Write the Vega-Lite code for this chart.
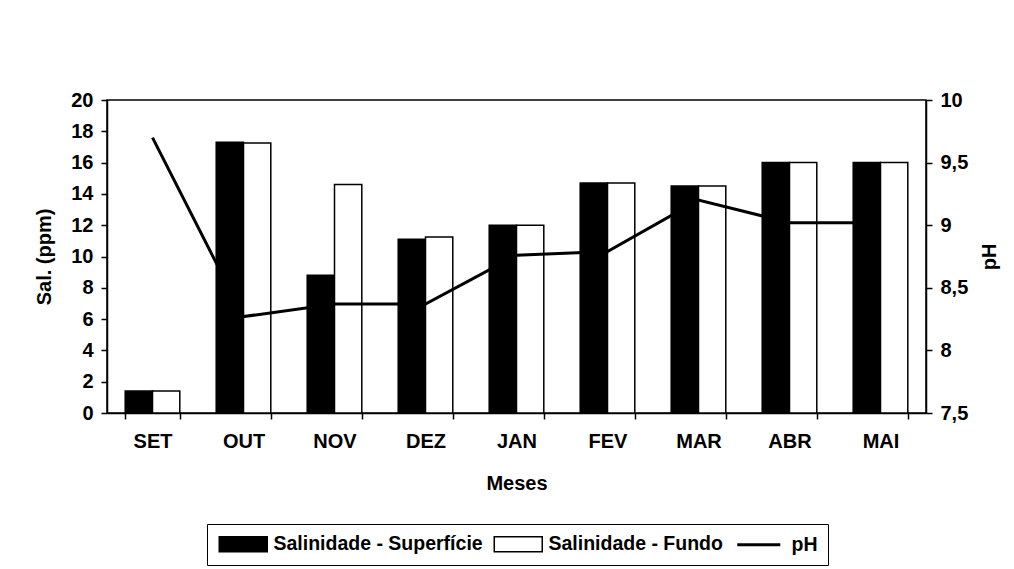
{
  "$schema": "https://vega.github.io/schema/vega-lite/v6.json",
  "width": 819,
  "height": 313,
  "autosize": {"type": "none"},
  "padding": {"left": 107, "top": 100, "right": 88, "bottom": 156},
  "background": "white",
  "config": {
    "font": "Liberation Sans",
    "view": {"stroke": "black", "strokeWidth": 1.5},
    "axis": {
      "grid": false,
      "domainColor": "black",
      "tickColor": "black",
      "labelColor": "black",
      "titleColor": "black",
      "labelFont": "Liberation Sans",
      "titleFont": "Liberation Sans",
      "labelFontSize": 20,
      "titleFontSize": 20,
      "labelFontWeight": "bold",
      "titleFontWeight": "bold",
      "domainWidth": 1.5,
      "tickWidth": 1.5,
      "tickSize": 6
    }
  },
  "datasets": {
    "sal": [
      {"mes": "SET", "serie": "Salinidade - Superfície", "sal": 1.4},
      {"mes": "SET", "serie": "Salinidade - Fundo", "sal": 1.4},
      {"mes": "OUT", "serie": "Salinidade - Superfície", "sal": 17.3},
      {"mes": "OUT", "serie": "Salinidade - Fundo", "sal": 17.25},
      {"mes": "NOV", "serie": "Salinidade - Superfície", "sal": 8.8},
      {"mes": "NOV", "serie": "Salinidade - Fundo", "sal": 14.6},
      {"mes": "DEZ", "serie": "Salinidade - Superfície", "sal": 11.1},
      {"mes": "DEZ", "serie": "Salinidade - Fundo", "sal": 11.25},
      {"mes": "JAN", "serie": "Salinidade - Superfície", "sal": 12.0},
      {"mes": "JAN", "serie": "Salinidade - Fundo", "sal": 12.0},
      {"mes": "FEV", "serie": "Salinidade - Superfície", "sal": 14.7},
      {"mes": "FEV", "serie": "Salinidade - Fundo", "sal": 14.7},
      {"mes": "MAR", "serie": "Salinidade - Superfície", "sal": 14.5},
      {"mes": "MAR", "serie": "Salinidade - Fundo", "sal": 14.5},
      {"mes": "ABR", "serie": "Salinidade - Superfície", "sal": 16.0},
      {"mes": "ABR", "serie": "Salinidade - Fundo", "sal": 16.0},
      {"mes": "MAI", "serie": "Salinidade - Superfície", "sal": 16.0},
      {"mes": "MAI", "serie": "Salinidade - Fundo", "sal": 16.0}
    ],
    "ph": [
      {"mes": "SET", "ph": 9.7},
      {"mes": "OUT", "ph": 8.27},
      {"mes": "NOV", "ph": 8.37},
      {"mes": "DEZ", "ph": 8.37},
      {"mes": "JAN", "ph": 8.76},
      {"mes": "FEV", "ph": 8.79},
      {"mes": "MAR", "ph": 9.2},
      {"mes": "ABR", "ph": 9.02},
      {"mes": "MAI", "ph": 9.02}
    ]
  },
  "layer": [
    {
      "data": {"name": "sal"},
      "mark": {"type": "bar", "stroke": "black", "strokeWidth": 1.5},
      "encoding": {
        "x": {
          "field": "mes",
          "type": "nominal",
          "sort": ["SET", "OUT", "NOV", "DEZ", "JAN", "FEV", "MAR", "ABR", "MAI"],
          "scale": {"paddingInner": 0.4, "paddingOuter": 0.2},
          "axis": {"title": "Meses", "labelAngle": 0, "tickBand": "extent", "labelPadding": 12, "titlePadding": 22}
        },
        "xOffset": {"field": "serie", "type": "nominal", "sort": ["Salinidade - Superfície", "Salinidade - Fundo"]},
        "y": {
          "field": "sal",
          "type": "quantitative",
          "scale": {"domain": [0, 20]},
          "axis": {"title": "Sal. (ppm)", "values": [0, 2, 4, 6, 8, 10, 12, 14, 16, 18, 20], "labelPadding": 8, "titlePadding": 16}
        },
        "fill": {
          "field": "serie",
          "type": "nominal",
          "scale": {"domain": ["Salinidade - Superfície", "Salinidade - Fundo", "pH"], "range": ["black", "white", "black"]},
          "legend": {
            "orient": "none",
            "legendX": 100,
            "legendY": 424,
            "direction": "horizontal",
            "title": null,
            "strokeColor": "black",
            "padding": 10,
            "labelFont": "Liberation Sans",
            "labelFontSize": 19.5,
            "labelFontWeight": "bold",
            "labelColor": "black",
            "labelLimit": 400,
            "labelOffset": 37,
            "columnPadding": 8,
            "symbolStrokeColor": "black",
            "symbolStrokeWidth": 1.5,
            "symbolSize": 900,
            "symbolType": "M-0.5,-0.5H2.7V0.5H-0.5Z",
            "encode": {
              "symbols": {
                "update": {
                  "shape": {"signal": "datum.value === 'pH' ? 'M-0.5,0H2.37' : 'M-0.5,-0.5H2.7V0.5H-0.5Z'"},
                  "strokeWidth": {"signal": "datum.value === 'pH' ? 3 : 1.5"}
                }
              }
            }
          }
        }
      }
    },
    {
      "data": {"name": "ph"},
      "mark": {"type": "line", "color": "black", "strokeWidth": 3},
      "encoding": {
        "x": {"field": "mes", "type": "nominal", "sort": ["SET", "OUT", "NOV", "DEZ", "JAN", "FEV", "MAR", "ABR", "MAI"]},
        "y": {
          "field": "ph",
          "type": "quantitative",
          "scale": {"domain": [7.5, 10], "zero": false},
          "axis": {
            "orient": "right",
            "title": "pH",
            "titleAngle": 270,
            "values": [7.5, 8, 8.5, 9, 9.5, 10],
            "labelExpr": "replace(format(datum.value, '~g'), '.', ',')",
            "labelPadding": 8,
            "titlePadding": 32
          }
        }
      }
    }
  ],
  "resolve": {"scale": {"y": "independent"}}
}
